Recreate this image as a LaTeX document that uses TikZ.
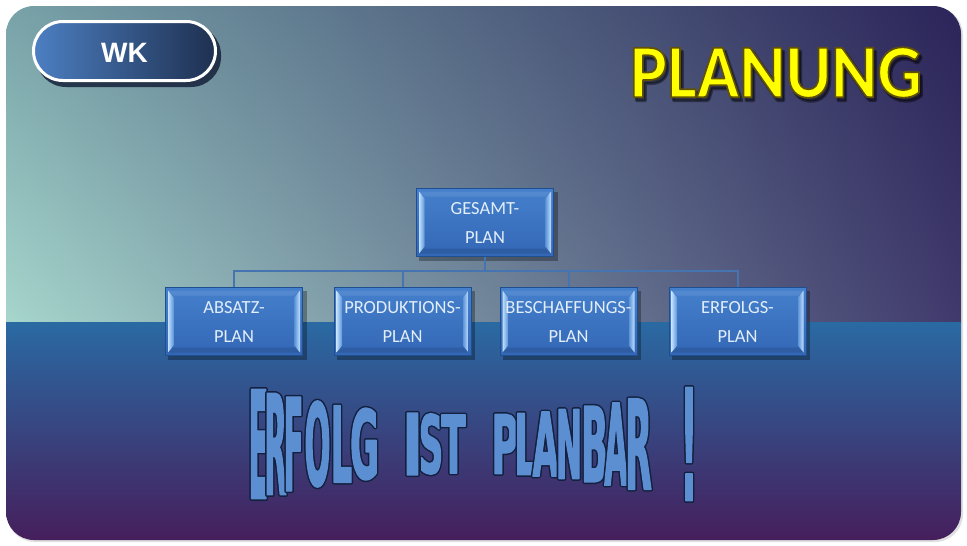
\documentclass[tikz,border=0pt]{standalone}
\usepackage{fontspec}
\setmainfont{Carlito}
\newfontfamily\arialfont{Liberation Sans}
\newfontfamily\wafont{DejaVu Sans}
\usepackage{graphicx}
\usetikzlibrary{calc,shadings}
\definecolor{ulc}{HTML}{78A2A8}
\definecolor{urc}{HTML}{2B2459}
\definecolor{llc}{HTML}{A6D6CC}
\definecolor{lrc}{HTML}{403A6C}
\definecolor{bandtop}{HTML}{2A6AA3}
\definecolor{bandmid}{HTML}{334A8A}
\definecolor{bandbot}{HTML}{451F5C}
\definecolor{boxtop}{HTML}{4580CC}
\definecolor{boxbot}{HTML}{3367B5}
\definecolor{boxborder}{HTML}{1F4F8F}
\definecolor{boxtext}{HTML}{E2EEF9}
\definecolor{bevlight}{HTML}{C2E0FF}
\definecolor{bevmid}{HTML}{5D95D8}
\definecolor{connc}{HTML}{4674B0}
\definecolor{wkl}{HTML}{4C7FC2}
\definecolor{wkr}{HTML}{1E3050}
\definecolor{wkshadow}{HTML}{16223A}
\definecolor{wafill}{HTML}{5B8FD2}
\definecolor{waline}{HTML}{14203F}
\definecolor{plyellow}{HTML}{FFFF00}
\makeatletter
% #1 letter, #2 width (pt), #3 height (pt), #4 stroke rgb, #5 stroke width
\newcommand\waletter[5]{%
  \setbox0=\hbox{\wafont\bfseries\fontsize{100}{100}\selectfont #1}%
  \edef\waht{\strip@pt\ht0}\edef\wawd{\strip@pt\wd0}%
  \pgfmathsetmacro\wafsz{100*#3/\waht}%
  \pgfmathsetmacro\wast{#2*\waht/(\wawd*#3)}%
  \edef\wafeat{\noexpand\addfontfeatures{FakeStretch=\wast}}%
  {\wafont\bfseries\wafeat\fontsize{\wafsz pt}{\wafsz pt}\selectfont
   \special{pdf:literal direct #4 RG #5 w 1 j 2 Tr}#1\special{pdf:literal direct 0 Tr}}%
}
\makeatother
\newcommand\outlined[2]{\special{pdf:literal direct #1 RG #2 w 1 j 2 Tr}}
\newcommand\plainmode{\special{pdf:literal direct 0 Tr}}
\tikzset{
  orgbox/.style={draw=boxborder, line width=0.8pt, top color=boxtop, bottom color=boxbot,
    minimum width=137pt, minimum height=68pt, inner sep=0pt, align=center,
    text=boxtext, font=\fontsize{18.5}{29}\selectfont,
    path picture={
      \coordinate (pnw) at (path picture bounding box.north west);
      \coordinate (psw) at (path picture bounding box.south west);
      \coordinate (pne) at (path picture bounding box.north east);
      \coordinate (pse) at (path picture bounding box.south east);
      \shade[left color=bevlight, right color=bevmid]
        ($(pnw)+(2.5,3)$) -- ($(pnw)+(8,10)$) -- ($(psw)+(8,-10)$) -- ($(psw)+(2.5,-3)$) -- cycle;
      \shade[left color=bevmid, right color=bevlight]
        ($(pne)+(-2.5,3)$) -- ($(pne)+(-8,10)$) -- ($(pse)+(-8,-10)$) -- ($(pse)+(-2.5,-3)$) -- cycle;
      \fill[boxbot!80!black, opacity=0.5]
        ($(psw)+(2.5,-3)$) -- ($(psw)+(8,-8)$) -- ($(pse)+(-8,-8)$) -- ($(pse)+(-2.5,-3)$) -- cycle;
      \fill[boxtop!80!white, opacity=0.4]
        ($(pnw)+(2.5,3)$) -- ($(pnw)+(8,8)$) -- ($(pne)+(-8,8)$) -- ($(pne)+(-2.5,3)$) -- cycle;
    }},
  orgshadow/.style={fill=black, opacity=0.3},
  conn/.style={draw=connc, line width=2pt},
  wa/.style={inner sep=0pt, anchor=center}
}
\begin{document}
\begin{tikzpicture}[x=1pt,y=-1pt]
\useasboundingbox (0,0) rectangle (967,546);
\fill[white] (0,0) rectangle (967,546);
% slide background
\fill[black!12, rounded corners=28pt] (7,7) rectangle (963,542);
\begin{scope}
  \clip[rounded corners=28pt] (6,6) rectangle (961,540);
  \shade[upper left=ulc, upper right=urc, lower left=llc, lower right=lrc] (6,6) rectangle (961,322);
  \shade[top color=bandtop, middle color=bandmid, bottom color=bandbot] (6,322) rectangle (961,540);
\end{scope}

% WK button
\fill[wkshadow, opacity=0.85, rounded corners=30pt] (36,25) rectangle (221,87);
\node (wk) [draw=white, line width=3pt, rounded corners=29.5pt, left color=wkl, right color=wkr,
  minimum width=182pt, minimum height=59pt, inner sep=0pt, text=white, text height=23pt,
  font=\arialfont\bfseries\fontsize{28}{28}\selectfont] at (124.5,51) {WK\hspace{5pt}};

% PLANUNG
\node (plsh) [inner sep=0pt, text=black, opacity=0.4] at (778.5,76)
  {\resizebox{292pt}{50pt}{\fontsize{78}{78}\selectfont\bfseries\outlined{0 0 0}{3}PLANUNG\plainmode}};
\node (pl) [inner sep=0pt, text=plyellow] at (776,72.5)
  {\resizebox{292pt}{50pt}{\fontsize{78}{78}\selectfont\bfseries\outlined{0.38 0.32 0.0}{1.8}PLANUNG\plainmode}};

% org chart
\foreach \cx/\cy in {485/222.5, 234/321.5, 402.5/321.5, 568.5/321.5, 737.5/321.5}{
  \fill[orgshadow] (\cx-66,\cy-31) rectangle (\cx+72.5,\cy+38);
}
\node (g) [orgbox] at (485,222.5) {GESAMT-\\PLAN};
\node (a) [orgbox] at (234,321.5) {ABSATZ-\\PLAN};
\node (b) [orgbox] at (402.5,321.5) {PRODUKTIONS-\\PLAN};
\node (c) [orgbox] at (568.5,321.5) {BESCHAFFUNGS-\\PLAN};
\node (d) [orgbox] at (737.5,321.5) {ERFOLGS-\\PLAN};
\coordinate (hub) at ($(g.south)+(0,14)$);
\draw[conn] (g.south) -- (hub);
\foreach \ch in {a,b,c,d}{
  \draw[conn] (\ch.north) -- (\ch.north |- hub) -- (hub);
}

% WordArt
\foreach \ch/\cx/\w [count=\i] in {E/258.5/19, R/275.5/22, F/293.5/19.5, O/317.5/25.5, L/341.5/21, G/364.5/28.5,
   I/412.5/21, S/431/24, T/453.5/24, P/505/27, L/526/23.5, A/545.5/25.5, N/569/26, B/594.5/26.5, A/616/23, R/638.5/26.5, !/689/17}{
  \pgfmathsetmacro\hh{2*(29+28*((\cx-470)/220)^2)}
  \node (wb\i) [wa, text=waline] at (\cx,444) {\waletter{\ch}{\w}{\hh}{0.08 0.125 0.25}{4.2}};
  \node (w\i) [wa, text=wafill] at (\cx,444) {\waletter{\ch}{\w}{\hh}{0.357 0.561 0.824}{1.2}};
}
\end{tikzpicture}
\end{document}
